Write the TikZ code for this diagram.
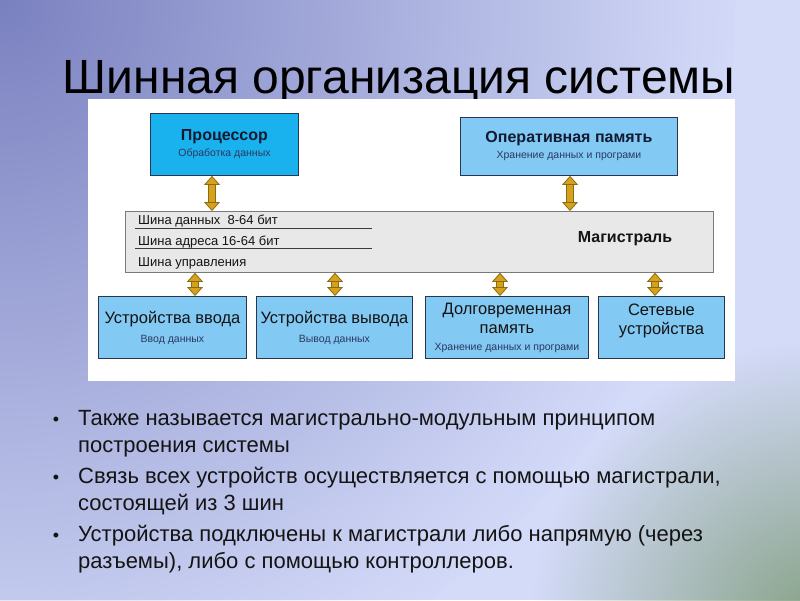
\documentclass[tikz,border=0pt]{standalone}
\usepackage{fontspec}
\setmainfont{Liberation Sans}
\usetikzlibrary{arrows.meta,fadings}
\definecolor{bglight}{HTML}{D4DBF9}
\definecolor{bgdark}{HTML}{7A81C0}
\definecolor{bggreen}{HTML}{84A083}
\definecolor{cpublue}{HTML}{19B2EE}
\definecolor{boxblue}{HTML}{82C9F3}
\definecolor{boxedge}{HTML}{2A3550}
\definecolor{busfill}{HTML}{E8E8E8}
\definecolor{busedge}{HTML}{7A7A7A}
\definecolor{buslinecol}{HTML}{3A3A3A}
\definecolor{gold}{HTML}{D6A21E}
\definecolor{goldedge}{HTML}{8C6A0F}
\definecolor{subtext}{HTML}{2C3860}
\definecolor{maintext}{HTML}{141414}
\definecolor{titletext}{HTML}{111A30}
\tikzfading[name=fadeout, inner color=transparent!0, outer color=transparent!100]
\newcommand\fs[2]{\fontsize{#1}{#2}\selectfont}
\newcommand\subt[1]{{\fs{10.5}{12}\mdseries\color{subtext}#1}}
\begin{document}
\begin{tikzpicture}[x=1pt,y=-1pt,
  topbox/.style={draw=boxedge, line width=0.9pt, anchor=north west, align=center,
    inner sep=1pt, text=titletext, font=\fs{16}{16}\bfseries},
  botbox/.style={draw=boxedge, line width=0.9pt, fill=boxblue, anchor=north west,
    align=center, inner sep=1pt, text=maintext, font=\fs{16.5}{19}},
  busarrow/.style={draw=goldedge, line width=0.8pt, double=gold, double distance=5.5pt,
    {Triangle[width=16pt,length=9pt,fill=gold]}-{Triangle[width=16pt,length=9pt,fill=gold]}},
  busline/.style={draw=buslinecol, line width=0.7pt},
  bustext/.style={anchor=base west, inner sep=0pt, font=\fs{13}{15}, text=maintext},
  bulletmark/.style={anchor=base, inner sep=0pt, font=\fs{18}{18}, text=maintext},
  bodytext/.style={anchor=base west, inner sep=0pt, font=\fs{22}{27}, text=maintext},
]
\useasboundingbox (0,0) rectangle (800,600);
\fill[bglight] (0,0) rectangle (800,600);
\begin{scope}
  \clip (0,0) rectangle (800,600);
  \fill[bgdark, path fading=fadeout] (0,0) circle (740);
  \fill[bggreen, path fading=fadeout] (820,630) circle (290);
\end{scope}

\node[anchor=base, inner sep=0pt, font=\fs{48}{50}, text=black] (title) at (399,93) {Шинная организация системы};

\fill[white] (88,99) rectangle (735,381);

\node[topbox, fill=cpublue, minimum width=148, minimum height=62] (cpu) at (150,113)
  {Процессор\\\subt{Обработка данных}};
\node[topbox, fill=boxblue, minimum width=217, minimum height=58] (ram) at (460,117)
  {Оперативная память\\\subt{Хранение данных и програми}};

\node[draw=busedge, fill=busfill, line width=0.8pt, anchor=north west,
  minimum width=588, minimum height=61, inner sep=0pt] (bus) at (125,211) {};
\draw[busline] (135,228) -- (372,228);
\draw[busline] (135,248) -- (372,248);
\node[bustext] (t1) at (138,224) {Шина данных\ \ 8-64 бит};
\node[bustext] (t2) at (138,245) {Шина адреса 16-64 бит};
\node[bustext] (t3) at (138,266) {Шина управления};
\node[font=\fs{16}{16}\bfseries, text=maintext, inner sep=0pt] (mag) at (625,239) {Магистраль};

\node[botbox, minimum width=148, minimum height=62] (in) at (98,296)
  {Устройства ввода\\\subt{Ввод данных}};
\node[botbox, minimum width=156, minimum height=62] (out) at (256,296)
  {Устройства вывода\\\subt{Вывод данных}};
\node[botbox, minimum width=163, minimum height=62] (ltm) at (425,296)
  {Долговременная\\память\\[-2pt]\subt{Хранение данных и програми}};
\node[botbox, minimum width=126, minimum height=62, text depth=16pt] (net) at (598,296)
  {Сетевые\\устройства};

\coordinate (a1) at (212,0);
\coordinate (a2) at (570,0);
\coordinate (b1) at (195,0);
\coordinate (b2) at (335,0);
\coordinate (b3) at (500,0);
\coordinate (b4) at (655,0);
\draw[busarrow] (cpu.south -| a1) -- (bus.north -| a1);
\draw[busarrow] (ram.south -| a2) -- (bus.north -| a2);
\draw[busarrow] (bus.south -| b1) -- (in.north -| b1);
\draw[busarrow] (bus.south -| b2) -- (out.north -| b2);
\draw[busarrow] (bus.south -| b3) -- (ltm.north -| b3);
\draw[busarrow] (bus.south -| b4) -- (net.north -| b4);

\node[bulletmark] (d1) at (56,425) {•};
\node[bodytext] (l1) at (78,425) {Также называется магистрально-модульным принципом};
\node[bodytext] (l2) at (78,452) {построения системы};
\node[bulletmark] (d2) at (56,483) {•};
\node[bodytext] (l3) at (78,483) {Связь всех устройств осуществляется с помощью магистрали,};
\node[bodytext] (l4) at (78,510) {состоящей из 3 шин};
\node[bulletmark] (d3) at (56,541) {•};
\node[bodytext] (l5) at (78,541) {Устройства подключены к магистрали либо напрямую (через};
\node[bodytext] (l6) at (78,568) {разъемы), либо с помощью контроллеров.};
\end{tikzpicture}
\end{document}
